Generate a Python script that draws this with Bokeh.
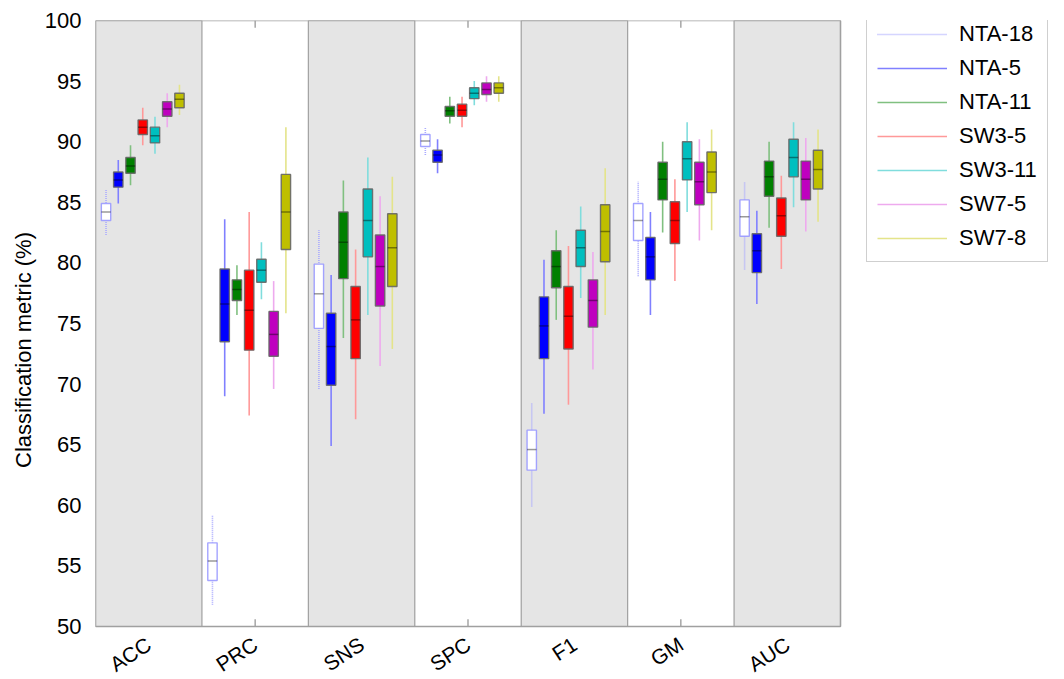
from math import pi

from bokeh.core.properties import value
from bokeh.embed import file_html
from bokeh.models import FixedTicker, Legend, LegendItem
from bokeh.plotting import figure
from bokeh.resources import INLINE

# Metrics shown along the x axis
metrics = ["ACC", "PRC", "SNS", "SPC", "F1", "GM", "AUC"]

# Model variants (one box per metric)
series = ["NTA-18", "NTA-5", "NTA-11", "SW3-5", "SW3-11", "SW7-5", "SW7-8"]

# Box statistics per series, one value per metric (ACC, PRC, SNS, SPC, F1, GM, AUC)
whisker_low = {
    "NTA-18": [82.3, 51.8, 69.6, 88.9, 59.9, 78.9, 79.45],
    "NTA-5":  [84.9, 69.0, 64.9, 87.4, 67.55, 75.7, 76.6],
    "NTA-11": [86.4, 75.7, 73.8, 91.5, 75.3, 82.5, 82.9],
    "SW3-5":  [89.7, 67.4, 67.1, 91.2, 68.3, 78.5, 79.5],
    "SW3-11": [89.0, 77.0, 75.7, 93.0, 77.1, 84.2, 84.6],
    "SW7-5":  [91.2, 69.6, 71.5, 93.3, 71.2, 81.85, 82.6],
    "SW7-8":  [92.2, 75.85, 72.9, 93.3, 75.7, 82.7, 83.4],
}
q1 = {
    "NTA-18": [83.5, 53.8, 74.6, 89.6, 62.9, 81.85, 82.2],
    "NTA-5":  [86.25, 73.5, 69.9, 88.3, 72.1, 78.6, 79.2],
    "NTA-11": [87.4, 76.9, 78.7, 92.1, 77.95, 85.2, 85.5],
    "SW3-5":  [90.6, 72.8, 72.1, 92.1, 72.9, 81.6, 82.2],
    "SW3-11": [89.9, 78.4, 80.5, 93.55, 79.7, 86.85, 87.1],
    "SW7-5":  [92.1, 72.3, 76.45, 93.9, 74.7, 84.8, 85.2],
    "SW7-8":  [92.8, 81.1, 78.05, 94.0, 80.1, 85.8, 86.1],
}
median = {
    "NTA-18": [84.2, 55.4, 77.45, 90.05, 64.6, 83.5, 83.8],
    "NTA-5":  [86.85, 76.6, 73.1, 88.9, 74.8, 80.5, 81.0],
    "NTA-11": [88.0, 77.8, 81.7, 92.55, 79.7, 86.9, 87.1],
    "SW3-5":  [91.2, 76.1, 75.3, 92.6, 75.6, 83.5, 83.9],
    "SW3-11": [90.5, 79.4, 83.5, 94.0, 81.25, 88.6, 88.7],
    "SW7-5":  [92.7, 74.1, 79.7, 94.3, 76.9, 86.7, 86.9],
    "SW7-8":  [93.5, 84.2, 81.25, 94.45, 82.6, 87.5, 87.7],
}
q3 = {
    "NTA-18": [84.9, 56.9, 79.9, 90.6, 66.2, 84.9, 85.2],
    "NTA-5":  [87.5, 79.5, 75.85, 89.3, 77.2, 82.1, 82.4],
    "NTA-11": [88.7, 78.6, 84.2, 92.9, 81.0, 88.3, 88.4],
    "SW3-5":  [91.8, 79.4, 78.05, 93.1, 78.05, 85.05, 85.35],
    "SW3-11": [91.2, 80.3, 86.1, 94.45, 82.7, 90.0, 90.2],
    "SW7-5":  [93.3, 76.0, 82.3, 94.85, 78.6, 88.3, 88.4],
    "SW7-8":  [94.0, 87.3, 84.05, 94.85, 84.8, 89.15, 89.3],
}
whisker_high = {
    "NTA-18": [86.1, 59.2, 82.7, 91.2, 68.4, 86.7, 86.7],
    "NTA-5":  [88.5, 83.6, 79.0, 90.2, 80.25, 84.2, 84.3],
    "NTA-11": [89.7, 79.8, 86.8, 93.7, 82.7, 90.0, 90.0],
    "SW3-5":  [92.8, 84.2, 81.1, 93.7, 81.4, 86.9, 87.2],
    "SW3-11": [92.05, 81.7, 88.7, 95.0, 84.65, 91.6, 91.6],
    "SW7-5":  [94.0, 78.5, 85.5, 95.4, 80.9, 90.2, 90.3],
    "SW7-8":  [94.7, 91.2, 87.1, 95.4, 87.8, 91.0, 91.0],
}

# Styling per series
box_fill = ["white", "#0000ff", "#008000", "#ff0000", "#00bfbf", "#bf00bf", "#bfbf00"]
box_line = ["#9999ff", "#666666", "#666666", "#666666", "#666666", "#666666", "#666666"]
whisker_color = ["#aaaaff", "#8080ff", "#80c080", "#ff9999", "#80dddd", "#eeaaee", "#e4e48a"]
whisker_dash = ["1 1", "solid", "solid", "solid", "solid", "solid", "solid"]

FONT = "Liberation Sans"
BOX_W = 0.088
STEP = 0.115
SHIFT = -0.056
Y0, Y1 = 50, 100

# Layout in pixels: the metric area is 745 x 606 px, starting 95 px from the
# left and 20 px from the top. The frame itself fills the rest of the canvas
# so that the legend and the category labels can be drawn inside it.
W, H = 1064, 679
LEFT, TOP = 95, 20
AXES_W, AXES_H = 745, 606
N = len(metrics)
x_end = 0.5 + N * (W - LEFT) / AXES_W
y_start = Y1 - (Y1 - Y0) * (H - TOP) / AXES_H

p = figure(
    width=W, height=H,
    x_range=(0.5, x_end), y_range=(y_start, Y1),
    output_backend="svg", toolbar_location=None,
    min_border_left=LEFT, min_border_right=0,
    min_border_top=TOP, min_border_bottom=0,
)
p.background_fill_color = "white"
p.border_fill_color = "white"
p.outline_line_color = None
p.grid.visible = False

# Short inward ticks at the centres of the unshaded metric bands
plain = [i for i in range(N) if i % 2 == 1]
tick_len = (Y1 - Y0) * 0.012
p.segment(x0=[i + 1 for i in plain], x1=[i + 1 for i in plain],
          y0=Y0, y1=Y0 + tick_len, line_color="#909090", line_width=1.2)
p.segment(x0=[i + 1 for i in plain], x1=[i + 1 for i in plain],
          y0=Y1, y1=Y1 - tick_len, line_color="#909090", line_width=1.2)

# Alternating shaded metric bands
shaded = [i for i in range(N) if i % 2 == 0]
p.quad(
    left=[i + 0.5 for i in shaded], right=[i + 1.5 for i in shaded],
    bottom=Y0, top=Y1,
    fill_color="#e5e5e5", line_color="#a0a0a0", line_width=1.2,
)
# Border round the metric area
p.quad(left=[0.5], right=[N + 0.5], bottom=[Y0], top=[Y1],
       fill_color=None, line_color="#a0a0a0", line_width=1.4)

legend_items = []
for k, name in enumerate(series):
    xs = [m + 1 + SHIFT + (k - 3) * STEP for m in range(N)]
    wr = p.segment(
        x0=xs, x1=xs, y0=whisker_low[name], y1=whisker_high[name],
        line_color=whisker_color[k], line_width=1.6, line_dash=whisker_dash[k],
    )
    p.vbar(
        x=xs, width=BOX_W, bottom=q1[name], top=q3[name],
        fill_color=box_fill[k], line_color=box_line[k], line_width=1.4,
        line_alpha=0.9,
    )
    p.segment(
        x0=[x - BOX_W / 2 for x in xs], x1=[x + BOX_W / 2 for x in xs],
        y0=median[name], y1=median[name],
        line_color="black", line_alpha=0.4, line_width=1.5,
    )
    legend_items.append(LegendItem(label=name, renderers=[wr]))

# Rotated category labels under the metric area
p.text(
    x=list(range(1, N + 1)), y=[Y0] * N, text=metrics,
    angle=33 * pi / 180, x_offset=-6, y_offset=6,
    text_align="right", text_baseline="top",
    text_font=value(FONT), text_font_size="21px", text_color="black",
)

# Axes
p.xaxis.visible = False

p.yaxis.ticker = FixedTicker(ticks=list(range(Y0, Y1 + 1, 5)))
p.yaxis.major_label_text_font = FONT
p.yaxis.major_label_text_font_size = "22px"
p.yaxis.major_label_text_color = "black"
p.yaxis.major_label_standoff = 8
p.yaxis.axis_line_color = None
p.yaxis.major_tick_line_color = None
p.yaxis.minor_tick_line_color = None
p.yaxis.axis_label = "Classification metric (%)"
p.yaxis.axis_label_text_font = FONT
p.yaxis.axis_label_text_font_size = "22px"
p.yaxis.axis_label_text_font_style = "normal"
p.yaxis.axis_label_text_color = "black"
p.yaxis.axis_label_standoff = 6

legend = Legend(
    items=legend_items, location=(771, H - 262),
    label_text_font=FONT, label_text_font_size="22px", label_text_color="black",
    glyph_width=70, glyph_height=20, label_height=20, label_standoff=12,
    spacing=8, padding=10, margin=0,
    border_line_color="#a0a0a0", border_line_width=1.2,
    background_fill_color="white", background_fill_alpha=1.0,
)
p.add_layout(legend, "center")

open("out.html", "w").write(file_html(p, INLINE))
